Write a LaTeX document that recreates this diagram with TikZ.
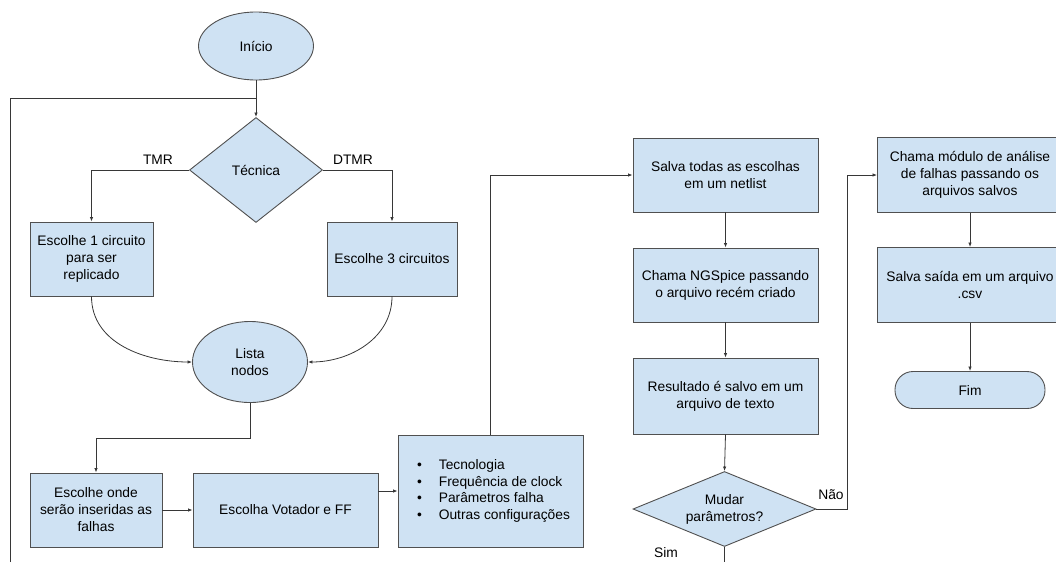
\documentclass[tikz,border=0pt]{standalone}
\usepackage{fontspec}
\setmainfont{Liberation Sans}
\usetikzlibrary{arrows.meta,positioning,shapes.geometric}
\definecolor{boxblue}{RGB}{207,226,243}
\definecolor{edgegray}{RGB}{80,80,80}
\definecolor{wiregray}{RGB}{55,55,55}
\tikzset{
  txt/.style={font=\fontsize{13.8}{17}\selectfont, text=black},
  blk/.style={txt, draw=edgegray, fill=boxblue, line width=0.9pt, align=center,
              minimum width=185pt, minimum height=74pt, inner sep=2pt},
  term/.style={txt, ellipse, draw=edgegray, fill=boxblue, line width=0.9pt,
               align=center, inner sep=0pt},
  dec/.style={txt, diamond, draw=edgegray, fill=boxblue, line width=0.9pt,
              align=center, inner sep=0pt},
  pill/.style={txt, draw=edgegray, fill=boxblue, line width=0.9pt, rounded corners=18pt,
               minimum width=150pt, minimum height=37pt},
  lbl/.style={txt},
  wire/.style={draw=wiregray, line width=0.8pt},
  arr/.style={wire, -{Latex[length=4.5pt,width=3.5pt]}},
}

\begin{document}
\begin{tikzpicture}[x=1pt, y=-1pt]
    \useasboundingbox (0,0) rectangle (1056,562);
    % left column
    \node[term, minimum width=115pt, minimum height=68pt] (inicio) at (256,46) {Início};
    \node[dec, minimum width=133pt, minimum height=105pt, shape aspect=1.27] (tecnica) at (256,170) {Técnica};
    \node[blk, minimum width=123pt] (umcirc) at (91.5,259) {Escolhe 1 circuito\\para ser\\replicado};
    \node[blk, minimum width=130pt] (trescirc) at (392,259) {Escolhe 3 circuitos};
    \node[term, minimum width=115pt, minimum height=81pt] (lista) at (250,362) {Lista\\nodos};
    \node[blk, minimum width=132pt] (onde) at (96,510) {Escolhe onde\\serão inseridas as\\falhas};
    \node[blk] (votador) at (285.5,510) {Escolha Votador e FF};
    \node[blk, minimum height=112pt] (config) at (490.5,491) {%
      \hspace*{6pt}\begin{tabular}{@{}l@{\hspace{17pt}}l@{}}
        \textbullet & Tecnologia\\[-0.3pt]
        \textbullet & Frequência de clock\\[-0.3pt]
        \textbullet & Parâmetros falha\\[-0.3pt]
        \textbullet & Outras configurações
      \end{tabular}};
    % middle column
    \node[blk] (netlist) at (725.5,175) {Salva todas as escolhas\\em um netlist};
    \node[blk] (ngspice) at (725.5,285) {Chama NGSpice passando\\o arquivo recém criado};
    \node[blk, minimum height=76pt] (resultado) at (725.5,396) {Resultado é salvo em um\\arquivo de texto};
    \node[dec, minimum width=183pt, minimum height=75pt, shape aspect=2.44] (mudar) at (724.5,509) {Mudar\\parâmetros?};
    % right column
    \node[blk, minimum height=75pt] (modulo) at (970,175) {Chama módulo de análise\\de falhas passando os\\arquivos salvos};
    \node[blk, minimum height=75pt] (csv) at (970,285) {Salva saída em um arquivo\\.csv};
    \node[pill] (fim) at (970,390) {Fim};

    \coordinate (loopin) at (10,562);
    \coordinate (simout) at (724.5,562);

    \draw[arr] (inicio.south) -- (tecnica.north);
    \draw[wire] (loopin) |- (inicio.south |- 0,98);
    \draw[arr] (tecnica.west) -| (umcirc.north);
    \draw[arr] (tecnica.east) -| (trescirc.north);
    \node[lbl] (tmr) at (158,160) {TMR};
    \node[lbl] (dtmr) at (353,160) {DTMR};
    \draw[arr] (umcirc.south) to[out=-90, in=180] (lista.west);
    \draw[arr] (trescirc.south) to[out=-90, in=0] (lista.east);
    \draw[arr] (lista.south) -- ++(0,35) -| (onde.north);
    \draw[arr] (onde.east) -- (votador.west);
    \draw[arr] (votador.east |- config.west) -- (config.west);
    \draw[arr] (config.north) |- (netlist.west);
    \draw[arr] (netlist.south) -- (ngspice.north);
    \draw[arr] (ngspice.south) -- (resultado.north);
    \draw[arr] (resultado.south) -- (mudar.north);
    \draw[arr] (mudar.east) -- ++(31,0) |- (modulo.west);
    \node[lbl] (nao) at (831,495) {Não};
    \draw[wire] (mudar.south) -- (simout);
    \node[lbl] (sim) at (666,553) {Sim};
    \draw[arr] (modulo.south) -- (csv.north);
    \draw[arr] (csv.south) -- (fim.north);
  \end{tikzpicture}
\end{document}
